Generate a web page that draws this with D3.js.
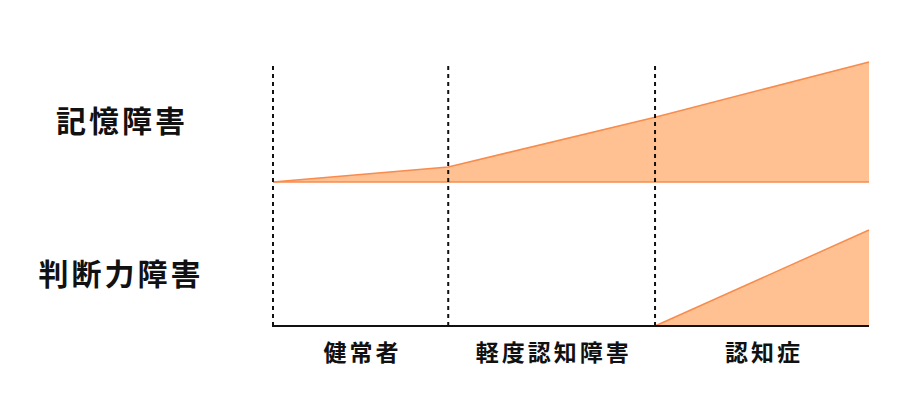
<!DOCTYPE html>
<html>
<head>
<meta charset="utf-8">
<script src="https://cdn.jsdelivr.net/npm/d3@7"></script>
<style>
  body { margin: 0; background: #fff; }
  text { font-family: "Noto Sans CJK JP", sans-serif; font-weight: bold; fill: #111; }
</style>
</head>
<body>
<div id="vis-container"></div>
<script>
// stages along the bottom, and where each stage starts / ends (relative progress)
var stages = ["健常者", "軽度認知障害", "認知症"];
var stageEdges = [0, 0.294, 0.641, 1.0];

// row labels
var rows = ["記憶障害", "判断力障害"];

// severity at each stage edge (0-100), null = not present yet
var memoryValues = [0, 12.5, 54, 100];
var judgmentValues = [null, null, 0, 80];

var width = 909;
var height = 396;

// plot area
var plotLeft = 273;
var plotRight = 869;
var plotTop = 66;
var rowBase = [182, 326];   // baseline of each row
var rowHeight = 120;        // pixels for a value of 100

var svg = d3.select("#vis-container")
	.append("svg")
	.attr("width", width)
	.attr("height", height);

var x = d3.scaleLinear().domain([0, 1]).range([plotLeft, plotRight]);

// one y scale per row, sharing the same size
var yScales = rowBase.map(function (b) {
	return d3.scaleLinear().domain([0, 100]).range([b, b - rowHeight]);
});

// areas
var series = [memoryValues, judgmentValues];
series.forEach(function (vals, r) {
	var pts = vals.map(function (v, i) { return { x: stageEdges[i], v: v }; })
		.filter(function (d) { return d.v !== null; });
	var y = yScales[r];
	var area = d3.area()
		.x(function (d) { return x(d.x); })
		.y0(y(0))
		.y1(function (d) { return y(d.v); });
	var line = d3.line()
		.x(function (d) { return x(d.x); })
		.y(function (d) { return y(d.v); });
	svg.append("path")
		.attr("d", area(pts))
		.attr("fill", "#ffc191")
		.attr("stroke", "none");
	svg.append("path")
		.attr("d", line(pts))
		.attr("fill", "none")
		.attr("stroke", "#f98b4c")
		.attr("stroke-width", 1.5);
	// baseline
	if (r === 0) {
		svg.append("line")
			.attr("x1", x(pts[0].x)).attr("x2", x(1))
			.attr("y1", y(0)).attr("y2", y(0))
			.attr("stroke", "#f98b4c")
			.attr("stroke-width", 1.5);
	}
});

// dotted stage dividers
stageEdges.slice(0, 3).forEach(function (e) {
	svg.append("line")
		.attr("x1", x(e)).attr("x2", x(e))
		.attr("y1", plotTop).attr("y2", rowBase[1])
		.attr("stroke", "#111")
		.attr("stroke-width", 2)
		.attr("stroke-dasharray", "4,4");
});

// bottom axis
svg.append("line")
	.attr("x1", x(0) - 1).attr("x2", x(1))
	.attr("y1", rowBase[1]).attr("y2", rowBase[1])
	.attr("stroke", "#111")
	.attr("stroke-width", 2);

// stage labels
stages.forEach(function (s, i) {
	svg.append("text")
		.attr("x", x((stageEdges[i] + stageEdges[i + 1]) / 2) + 2)
		.attr("y", 361)
		.attr("text-anchor", "middle")
		.style("font-size", "23px")
		.style("letter-spacing", "3px")
		.text(s);
});

// row labels
var rowLabelY = [132, 285];
var rowLabelX = [122, 121];
rows.forEach(function (t, i) {
	svg.append("text")
		.attr("x", rowLabelX[i])
		.attr("y", rowLabelY[i])
		.attr("text-anchor", "middle")
		.style("font-size", "30px")
		.style("letter-spacing", "3px")
		.text(t);
});
</script>
</body>
</html>
